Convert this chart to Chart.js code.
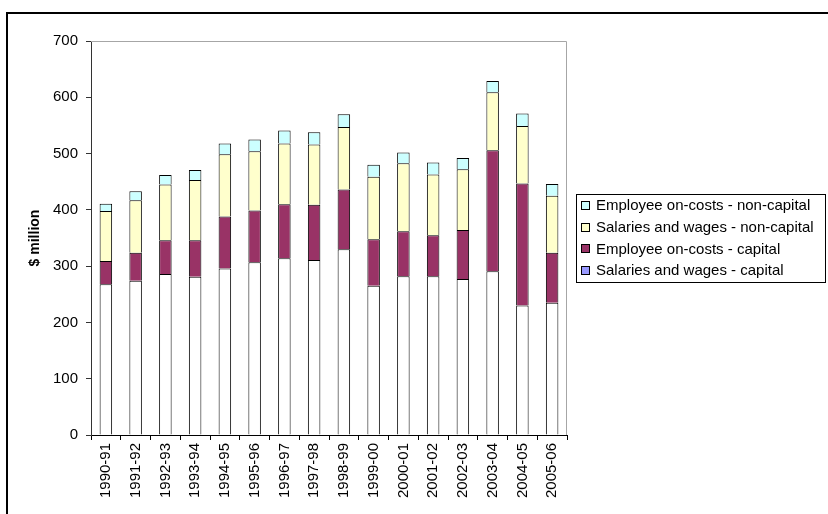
<!DOCTYPE html>
<html>
<head>
<meta charset="utf-8">
<style>
  html, body { margin: 0; padding: 0; background: #fff; }
  #wrap { width: 828px; height: 514px; position: relative; }
</style>
<script src="https://cdn.jsdelivr.net/npm/chart.js@4/dist/chart.umd.min.js"></script>
</head>
<body>
<div id="wrap"><canvas id="staffCosts" width="828" height="514"></canvas></div>
<script>
const years = ['1990-91', '1991-92', '1992-93', '1993-94', '1994-95', '1995-96', '1996-97', '1997-98',
  '1998-99', '1999-00', '2000-01', '2001-02', '2002-03', '2003-04', '2004-05', '2005-06'];

// $ million per year, stacked bottom to top
const salariesCapital    = [268, 274, 286, 281, 296, 307, 314, 311, 330, 265, 282, 282, 277, 291, 230, 235];
const onCostsCapital     = [41, 50, 60, 65, 92, 92, 96, 98, 106, 83, 80, 73, 87, 215, 217, 89];
const salariesNonCapital = [89, 93, 99, 107, 111, 105, 108, 107, 111, 111, 121, 108, 108, 103, 102, 101];
const onCostsNonCapital  = [13, 16, 17, 18, 19, 21, 23, 22, 23, 21, 19, 21, 20, 20, 22, 21];

const yTicks = [0, 100, 200, 300, 400, 500, 600, 700];

const FONT = 'Arial, "Liberation Sans", sans-serif';

// outer frame, plot border and boxed legend
const decorations = {
  id: 'decorations',
  beforeDraw(chart) {
    const ctx = chart.ctx;
    ctx.save();
    ctx.fillStyle = '#000';
    ctx.fillRect(6, 12, 822, 2);
    ctx.fillRect(6, 12, 2, 502);
    ctx.restore();
  },
  beforeDatasetsDraw(chart) {
    const { ctx, chartArea: a } = chart;
    ctx.save();
    ctx.strokeStyle = '#a6a6a6';
    ctx.lineWidth = 1;
    ctx.beginPath();
    ctx.moveTo(a.left, a.top + 0.5);
    ctx.lineTo(a.right - 0.5, a.top + 0.5);
    ctx.lineTo(a.right - 0.5, a.bottom);
    ctx.stroke();
    ctx.restore();
  },
  afterDraw(chart) {
    const ctx = chart.ctx;
    const sets = chart.data.datasets.slice().reverse();
    ctx.save();
    ctx.strokeStyle = '#000';
    ctx.lineWidth = 1;
    ctx.strokeRect(576.5, 194.5, 249, 88);
    ctx.font = '15px ' + FONT;
    ctx.textBaseline = 'middle';
    sets.forEach((ds, i) => {
      const y = 205 + i * 21.7;
      ctx.fillStyle = ds.legendColor;
      ctx.fillRect(581, Math.round(y) - 4, 8, 8);
      ctx.strokeRect(581.5, Math.round(y) - 3.5, 8, 8);
      ctx.fillStyle = '#000';
      ctx.fillText(ds.label, 596, y + 1);
    });
    ctx.restore();
  }
};

const barStyle = { borderColor: '#000', borderWidth: 1, barPercentage: 0.42, categoryPercentage: 1 };

new Chart(document.getElementById('staffCosts'), {
  type: 'bar',
  data: {
    labels: years,
    datasets: [
      { label: 'Salaries and wages - capital', data: salariesCapital, backgroundColor: '#ffffff', legendColor: '#9999ff', ...barStyle },
      { label: 'Employee on-costs - capital', data: onCostsCapital, backgroundColor: '#993366', legendColor: '#993366', ...barStyle },
      { label: 'Salaries and wages - non-capital', data: salariesNonCapital, backgroundColor: '#ffffcc', legendColor: '#ffffcc', ...barStyle },
      { label: 'Employee on-costs - non-capital', data: onCostsNonCapital, backgroundColor: '#ccffff', legendColor: '#ccffff', ...barStyle }
    ]
  },
  options: {
    responsive: false,
    animation: false,
    devicePixelRatio: 1,
    layout: { padding: { left: 0, top: 41, right: 261, bottom: 0 } },
    plugins: {
      legend: { display: false },
      tooltip: { enabled: false }
    },
    scales: {
      x: {
        stacked: true,
        afterFit(scale) { scale.height = 79; },
        grid: { drawOnChartArea: false, offset: true, tickLength: 5, color: '#000' },
        border: { color: '#000', width: 1 },
        ticks: { color: '#000', font: { family: FONT, size: 15 }, minRotation: 90, maxRotation: 90, autoSkip: false, padding: 3 }
      },
      y: {
        stacked: true,
        min: 0,
        max: 700,
        afterFit(scale) { scale.width = 91; },
        afterBuildTicks(scale) { scale.ticks = yTicks.map(v => ({ value: v })); },
        grid: { drawOnChartArea: false, tickLength: 5, color: '#333' },
        border: { color: '#333', width: 1 },
        ticks: { color: '#000', font: { family: FONT, size: 15 }, padding: 8 },
        title: { display: true, text: '$ million', color: '#000', font: { family: FONT, size: 14, weight: 'bold' }, padding: { top: 27, bottom: 0 } }
      }
    }
  },
  plugins: [decorations]
});
</script>
</body>
</html>
